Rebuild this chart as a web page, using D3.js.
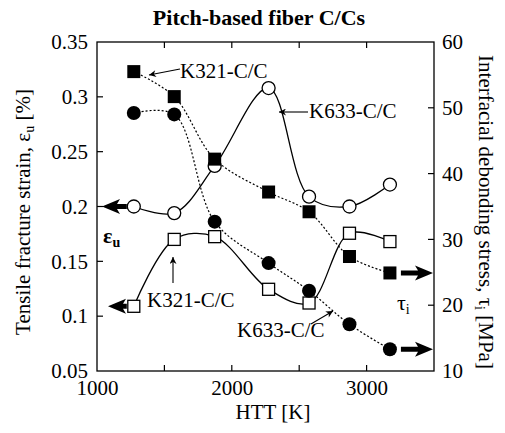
<!DOCTYPE html>
<html>
<head>
<meta charset="utf-8">
<script src="https://cdn.jsdelivr.net/npm/d3@7"></script>
<style>
  body { margin: 0; background: #fff; }
  svg text { font-family: "Liberation Serif", "Times New Roman", serif !important; }
</style>
</head>
<body>
<svg width="505" height="433" font-family="Liberation Serif"></svg>
<script>
// heat treatment temperatures [K]
var htt = [1273, 1573, 1873, 2273, 2573, 2873, 3173];

// fracture strain, eps_u [%] (left axis)
var k633Strain = [0.200, 0.194, 0.237, 0.308, 0.209, 0.200, 0.220];
var k321Strain = [0.109, 0.170, 0.1725, 0.1245, 0.112, 0.1756, 0.168];

// debonding stress, tau_i [MPa] (right axis)
var k321Stress = [55.5, 51.7, 42.2, 37.2, 34.2, 27.4, 24.9];
var k633Stress = [49.2, 49.0, 32.7, 26.4, 22.2, 17.1, 13.3];

var xTicks = [1000, 2000, 3000];
var xMinor = [1500, 2000, 2500, 3000];
var yLeftTicks = [0.05, 0.1, 0.15, 0.2, 0.25, 0.3, 0.35];
var yRightTicks = [10, 20, 30, 40, 50, 60];

var serif = "'Liberation Serif', 'Times New Roman', serif";

drawChart();

function drawChart() {
  var svg = d3.select("svg");
  var pL = 97, pR = 434, pT = 42, pB = 371;

  var x = d3.scaleLinear().domain([1000, 3500]).range([pL, pR]);
  var yL = d3.scaleLinear().domain([0.05, 0.35]).range([pB, pT]);
  var yR = d3.scaleLinear().domain([10, 60]).range([pB, pT]);

  var g = svg.append("g");

  // frame
  g.append("rect")
    .attr("x", pL).attr("y", pT)
    .attr("width", pR - pL).attr("height", pB - pT)
    .attr("fill", "none").attr("stroke", "#000").attr("stroke-width", 1.3);

  var fmtL = function(d){ return (Math.round(d * 100) % 10 === 0) ? d3.format(".1f")(d) : d3.format(".2f")(d); };

  // axes (labels only), ticks drawn inward below
  g.append("g")
    .attr("transform", "translate(0," + pB + ")")
    .call(d3.axisBottom(x).tickValues(xTicks).tickSize(0).tickPadding(9).tickFormat(d3.format("d")))
    .call(a => a.select(".domain").remove())
    .attr("font-family", null)
    .selectAll("text").attr("font-size", 21).style("font-family", serif);

  g.selectAll(".xt").data(xMinor).enter().append("line")
    .attr("x1", d => x(d)).attr("x2", d => x(d))
    .attr("y1", pB).attr("y2", pB - 6)
    .attr("stroke", "#000").attr("stroke-width", 1.2);
  g.selectAll(".xtt").data(xMinor).enter().append("line")
    .attr("x1", d => x(d)).attr("x2", d => x(d))
    .attr("y1", pT).attr("y2", pT + 6)
    .attr("stroke", "#000").attr("stroke-width", 1.2);

  g.append("g")
    .attr("transform", "translate(" + pL + ",0)")
    .call(d3.axisLeft(yL).tickValues(yLeftTicks).tickSize(0).tickPadding(9).tickFormat(fmtL))
    .call(a => a.select(".domain").remove())
    .attr("font-family", null)
    .selectAll("text").attr("font-size", 21).style("font-family", serif);

  g.selectAll(".ylt").data(yLeftTicks.slice(1, -1)).enter().append("line")
    .attr("x1", pL).attr("x2", pL + 6)
    .attr("y1", d => yL(d)).attr("y2", d => yL(d))
    .attr("stroke", "#000").attr("stroke-width", 1.2);

  g.append("g")
    .attr("transform", "translate(" + pR + ",0)")
    .call(d3.axisRight(yR).tickValues(yRightTicks).tickSize(0).tickPadding(8))
    .call(a => a.select(".domain").remove())
    .attr("font-family", null)
    .selectAll("text").attr("font-size", 21).style("font-family", serif);

  g.selectAll(".yrt").data(yRightTicks.slice(1, -1)).enter().append("line")
    .attr("x1", pR).attr("x2", pR - 6)
    .attr("y1", d => yR(d)).attr("y2", d => yR(d))
    .attr("stroke", "#000").attr("stroke-width", 1.2);

  // curves
  var lineL = d3.line().x((d, i) => x(htt[i])).y(d => yL(d)).curve(d3.curveCatmullRom.alpha(0.5));
  var lineR = d3.line().x((d, i) => x(htt[i])).y(d => yR(d)).curve(d3.curveCatmullRom.alpha(0.5));

  g.append("path").attr("d", lineL(k633Strain)).attr("fill", "none").attr("stroke", "#000").attr("stroke-width", 1.3);
  g.append("path").attr("d", lineL(k321Strain)).attr("fill", "none").attr("stroke", "#000").attr("stroke-width", 1.3);
  g.append("path").attr("d", lineR(k321Stress)).attr("fill", "none").attr("stroke", "#000").attr("stroke-width", 1.2).attr("stroke-dasharray", "2,2");
  g.append("path").attr("d", lineR(k633Stress)).attr("fill", "none").attr("stroke", "#000").attr("stroke-width", 1.2).attr("stroke-dasharray", "2,2");

  // markers
  g.selectAll(".oc").data(k633Strain).enter().append("circle")
    .attr("cx", (d, i) => x(htt[i])).attr("cy", d => yL(d)).attr("r", 6.5)
    .attr("fill", "#fff").attr("stroke", "#000").attr("stroke-width", 1.3);
  g.selectAll(".os").data(k321Strain).enter().append("rect")
    .attr("x", (d, i) => x(htt[i]) - 6).attr("y", d => yL(d) - 6)
    .attr("width", 12).attr("height", 12)
    .attr("fill", "#fff").attr("stroke", "#000").attr("stroke-width", 1.3);
  g.selectAll(".fs").data(k321Stress).enter().append("rect")
    .attr("x", (d, i) => x(htt[i]) - 6.5).attr("y", d => yR(d) - 6.5)
    .attr("width", 13).attr("height", 13).attr("fill", "#000");
  g.selectAll(".fc").data(k633Stress).enter().append("circle")
    .attr("cx", (d, i) => x(htt[i])).attr("cy", d => yR(d)).attr("r", 7)
    .attr("fill", "#000");

  // arrows
  svg.append("defs").append("marker")
    .attr("id", "ah").attr("viewBox", "0 0 10 10").attr("refX", 10).attr("refY", 5)
    .attr("markerWidth", 9).attr("markerHeight", 7).attr("markerUnits", "userSpaceOnUse")
    .attr("orient", "auto")
    .append("path").attr("d", "M0,0L10,5L0,10L3,5Z").attr("fill", "#000");

  function thinArrow(x1, y1, x2, y2) {
    g.append("line").attr("x1", x1).attr("y1", y1).attr("x2", x2).attr("y2", y2)
      .attr("stroke", "#000").attr("stroke-width", 1.1).attr("marker-end", "url(#ah)");
  }
  function bigArrow(xTail, xTip, y) {
    var dir = xTip > xTail ? 1 : -1;
    var hx = xTip - dir * 15;
    g.append("path")
      .attr("d", "M" + xTail + "," + (y - 2.5) + "L" + hx + "," + (y - 2.5) + "L" + (hx - dir * 3) + "," + (y - 7.5) +
        "L" + xTip + "," + y + "L" + (hx - dir * 3) + "," + (y + 7.5) + "L" + hx + "," + (y + 2.5) + "L" + xTail + "," + (y + 2.5) + "Z")
      .attr("fill", "#000");
  }

  bigArrow(x(1273) - 7, pL + 5, yL(k633Strain[0]));
  bigArrow(x(1273) - 7, pL + 11, yL(k321Strain[0]));
  bigArrow(x(3173) + 11, pR - 1, yR(k321Stress[6]));
  bigArrow(x(3173) + 11, pR - 1, yR(k633Stress[6]));

  thinArrow(180, 69, 149, 75);
  thinArrow(308, 112, 279, 112);
  thinArrow(173, 283, 173, 257);
  thinArrow(311, 324, 333, 311);

  function label(tx, ty, s) {
    g.append("text").attr("x", tx).attr("y", ty).attr("font-size", 21)
      .style("font-family", serif).text(s);
  }
  label(180, 78, "K321-C/C");
  label(309, 118, "K633-C/C");
  label(147, 307, "K321-C/C");
  label(237, 337, "K633-C/C");

  // eps_u and tau_i symbols
  var eu = g.append("text").attr("x", 103).attr("y", 243).attr("font-size", 22)
    .attr("font-weight", "bold").style("font-family", serif);
  eu.append("tspan").text("ε");
  eu.append("tspan").attr("dy", 4).attr("font-size", 14).text("u");
  var ti = g.append("text").attr("x", 397).attr("y", 310).attr("font-size", 22).style("font-family", serif);
  ti.append("tspan").text("τ");
  ti.append("tspan").attr("dy", 4).attr("font-size", 14).text("i");

  // title and axis labels
  svg.append("text").attr("x", 259).attr("y", 25).attr("text-anchor", "middle")
    .attr("font-size", 22).attr("font-weight", "bold").style("font-family", serif)
    .text("Pitch-based fiber C/Cs");

  svg.append("text").attr("x", 273).attr("y", 419).attr("text-anchor", "middle")
    .attr("font-size", 21).style("font-family", serif).text("HTT [K]");

  var yl = svg.append("text").attr("transform", "translate(30,212) rotate(-90)")
    .attr("text-anchor", "middle").attr("font-size", 21).style("font-family", serif);
  yl.append("tspan").text("Tensile fracture strain, ε");
  yl.append("tspan").attr("dy", 4).attr("font-size", 14).text("u");
  yl.append("tspan").attr("dy", -4).text(" [%]");

  var yr = svg.append("text").attr("transform", "translate(479,212) rotate(90)")
    .attr("text-anchor", "middle").attr("font-size", 21).style("font-family", serif);
  yr.append("tspan").text("Interfacial debonding stress, τ");
  yr.append("tspan").attr("dy", 4).attr("font-size", 14).text("i");
  yr.append("tspan").attr("dy", -4).text(" [MPa]");
}
</script>
</body>
</html>
